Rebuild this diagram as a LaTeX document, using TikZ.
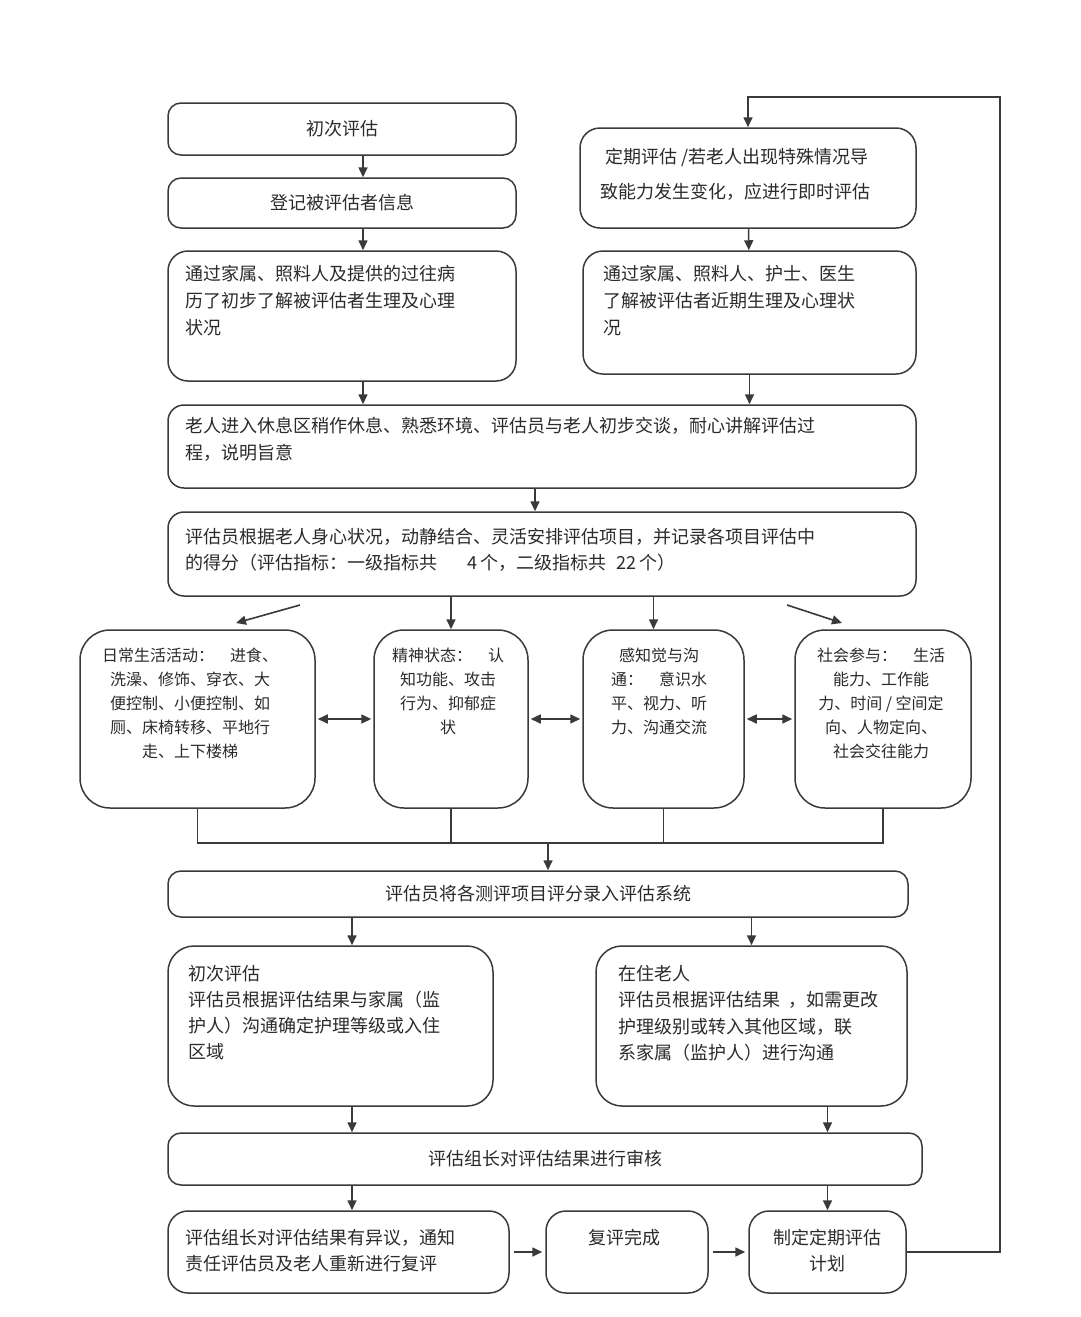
\documentclass[tikz,border=0pt]{standalone}
\usepackage{fontspec}
\setmainfont{Noto Sans CJK SC}
\usetikzlibrary{arrows.meta,positioning}
\definecolor{flowline}{HTML}{3A3A3A}
\definecolor{flowtext}{HTML}{2B2B2B}
\tikzset{
  box/.style={draw=flowline,line width=1.5pt,rounded corners=13pt,inner sep=0pt,text=flowtext,font=\fontsize{18}{27}\selectfont},
  bigbox/.style={box,rounded corners=20pt},
  card/.style={box,rounded corners=30pt},
  txt/.style={anchor=north west,inner sep=0pt,align=left,text=flowtext,font=\fontsize{18}{27}\selectfont},
  cardtxt/.style={anchor=north,inner sep=0pt,align=center,text=flowtext,font=\fontsize{16}{24}\selectfont},
  ar/.style={->,draw=flowline,line width=1.6pt},
  dbl/.style={<->,draw=flowline,line width=1.6pt,shorten <=2pt,shorten >=2pt},
  ln/.style={draw=flowline,line width=1.5pt},
}

\begin{document}
\begin{tikzpicture}[x=1pt,y=-1pt,>={Triangle[length=10pt,width=9pt]}]
  \useasboundingbox[fill=white] (0,0) rectangle (1080,1317);
  % left column: first assessment
  \node[box,minimum width=348,minimum height=52] (init) at (342,129) {初次评估};
  \node[box,minimum width=348,minimum height=50] (reg) at (342,203) {登记被评估者信息};
  \node[bigbox,minimum width=348,minimum height=130] (hist) at (342,316) {};
  \node[txt] (histT) at (185,265) {通过家属、照料人及提供的过往病\\历了初步了解被评估者生理及心理\\状况};
  % right column: periodic assessment
  \node[bigbox,minimum width=336,minimum height=100] (period) at (748,178) {};
  \node[txt,font=\fontsize{18}{35}\selectfont] (periodT) at (600,148) {\hspace*{5pt}定期评估 /若老人出现特殊情况导\\致能力发生变化，应进行即时评估};
  \node[bigbox,minimum width=333,minimum height=123] (recent) at (749.5,312.5) {};
  \node[txt] (recentT) at (603,265) {通过家属、照料人、护士、医生\\了解被评估者近期生理及心理状\\况};
  % common steps
  \node[box,rounded corners=16pt,minimum width=748,minimum height=83] (rest) at (542,446.5) {};
  \node[txt] (restT) at (185,417) {老人进入休息区稍作休息、熟悉环境、评估员与老人初步交谈，耐心讲解评估过\\程，说明旨意};
  \node[box,rounded corners=16pt,minimum width=748,minimum height=84] (score) at (542,554) {};
  \node[txt,font=\fontsize{18}{26}\selectfont] (scoreT) at (185,528) {评估员根据老人身心状况，动静结合、灵活安排评估项目，并记录各项目评估中\\的得分（评估指标：一级指标共\hspace*{30pt}4\,个，二级指标共\hspace*{10pt}22\,个）};
  % the four indicators
  \node[card,minimum width=235,minimum height=178] (adl) at (197.5,719) {};
  \node[cardtxt] (adlT) at (190,648) {日常生活活动：　进食、\\洗澡、修饰、穿衣、大\\便控制、小便控制、如\\厕、床椅转移、平地行\\走、上下楼梯};
  \node[card,minimum width=154,minimum height=178] (mental) at (451,719) {};
  \node[cardtxt] (mentalT) at (448,648) {精神状态：　认\\知功能、攻击\\行为、抑郁症\\状};
  \node[card,minimum width=161,minimum height=178] (sense) at (663.5,719) {};
  \node[cardtxt] (senseT) at (659,648) {感知觉与沟\\通：　意识水\\平、视力、听\\力、沟通交流};
  \node[card,minimum width=176,minimum height=178] (social) at (883,719) {};
  \node[cardtxt] (socialT) at (881,648) {社会参与：　生活\\能力、工作能\\力、时间 / 空间定\\向、人物定向、\\社会交往能力};
  % results
  \node[box,minimum width=740,minimum height=46] (enter) at (538,894) {评估员将各测评项目评分录入评估系统};
  \node[card,rounded corners=26pt,minimum width=325,minimum height=160] (first) at (330.5,1026) {};
  \node[txt,font=\fontsize{18}{26}\selectfont] (firstT) at (188,965) {初次评估\\评估员根据评估结果与家属（监\\护人）沟通确定护理等级或入住\\区域};
  \node[card,rounded corners=26pt,minimum width=311,minimum height=160] (resident) at (751.5,1026) {};
  \node[txt,font=\fontsize{18}{26.5}\selectfont] (residentT) at (618,965) {在住老人\\评估员根据评估结果\hspace*{8pt}，如需更改\\护理级别或转入其他区域，联\\系家属（监护人）进行沟通};
  \node[box,minimum width=754,minimum height=52] (review) at (545,1159) {评估组长对评估结果进行审核};
  \node[bigbox,minimum width=341,minimum height=82] (dispute) at (338.5,1252) {};
  \node[txt,font=\fontsize{18}{26}\selectfont] (disputeT) at (185,1229) {评估组长对评估结果有异议，通知\\责任评估员及老人重新进行复评};
  \node[bigbox,minimum width=162,minimum height=82] (done) at (627,1252) {};
  \node[cardtxt,font=\fontsize{18}{26}\selectfont] (doneT) at (624,1229) {复评完成};
  \node[bigbox,minimum width=157,minimum height=82] (plan) at (827.5,1252) {};
  \node[cardtxt,font=\fontsize{18}{26}\selectfont] (planT) at (827.5,1229) {制定定期评估\\计划};
  % helper points
  \coordinate (cx) at (363,0);
  \coordinate (lx) at (352,0);
  \coordinate (merge) at (548,843);
  \coordinate (loop) at (1000,97);
  \coordinate (dlA) at (300,605);
  \coordinate (dlB) at (236,623);
  \coordinate (drA) at (787,605);
  \coordinate (drB) at (842,623);
  % connectors
  \draw[ar] (init.south -| cx) -- (reg.north -| cx);
  \draw[ar] (reg.south -| cx) -- (hist.north -| cx);
  \draw[ar] (hist.south -| cx) -- (rest.north -| cx);
  \draw[ar] (period) -- (recent);
  \draw[ar] (recent.south) -- (recent.south |- rest.north);
  \draw[ar] ([xshift=-7]rest.south) -- ([xshift=-7]score.north);
  \draw[ar] (dlA) -- (dlB);
  \draw[ar] (score.south -| mental) -- (mental.north);
  \draw[ar] ([xshift=-10]score.south -| sense) -- ([xshift=-10]sense.north);
  \draw[ar] (drA) -- (drB);
  \draw[dbl] (adl) -- (mental);
  \draw[dbl] (mental) -- (sense);
  \draw[dbl] (sense) -- (social);
  \draw[ln] (adl.south) -- (adl.south |- merge) -- (social.south |- merge) -- (social.south);
  \draw[ln] (mental.south) -- (mental.south |- merge);
  \draw[ln] (sense.south) -- (sense.south |- merge);
  \draw[ar] (merge) -- (merge |- enter.north);
  \draw[ar] (enter.south -| lx) -- (first.north -| lx);
  \draw[ar] (enter.south -| resident) -- (resident.north);
  \draw[ar] (first.south -| lx) -- (review.north -| lx);
  \draw[ar] (resident.south -| plan) -- (review.north -| plan);
  \draw[ar] (review.south -| lx) -- (dispute.north -| lx);
  \draw[ar] (review.south -| plan) -- (plan.north);
  \draw[ar,shorten <=4pt,shorten >=3pt] (dispute) -- (done);
  \draw[ar,shorten <=4pt,shorten >=3pt] (done) -- (plan);
  \draw[ar] (plan.east) -| (loop) -| (period.north);
\end{tikzpicture}
\end{document}
